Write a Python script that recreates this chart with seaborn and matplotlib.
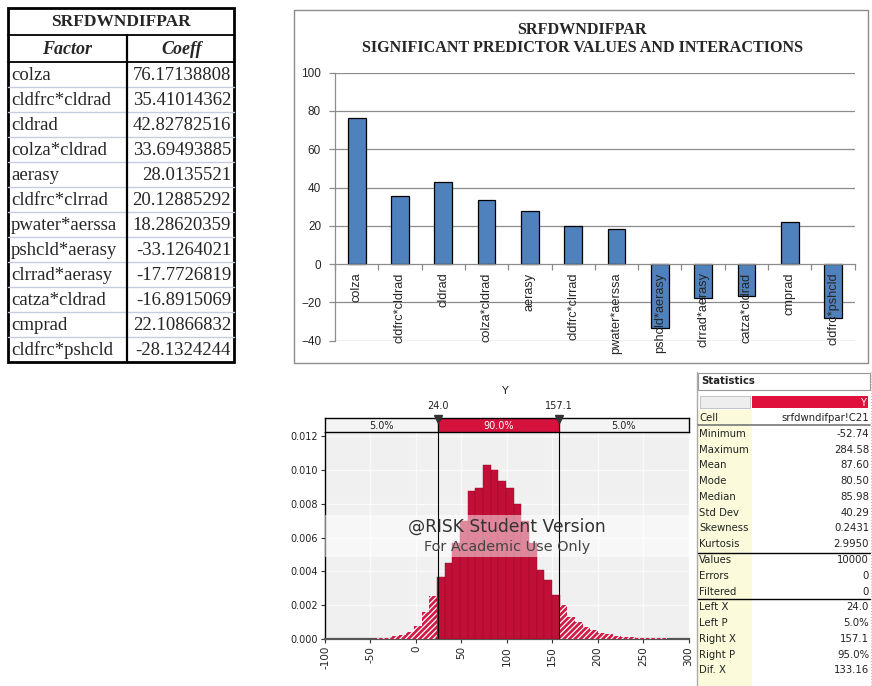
import numpy as np
import pandas as pd
import matplotlib
matplotlib.use("Agg")
import matplotlib.pyplot as plt
import seaborn as sns
from matplotlib.patches import Rectangle

# ---------------- data ----------------
table_title = "SRFDWNDIFPAR"
factors = ["colza", "cldfrc*cldrad", "cldrad", "colza*cldrad", "aerasy",
           "cldfrc*clrrad", "pwater*aerssa", "pshcld*aerasy", "clrrad*aerasy",
           "catza*cldrad", "cmprad", "cldfrc*pshcld"]
coeffs = [76.17138808, 35.41014362, 42.82782516, 33.69493885, 28.0135521,
          20.12885292, 18.28620359, -33.1264021, -17.7726819, -16.8915069,
          22.10866832, -28.1324244]
coeff_text = ["76.17138808", "35.41014362", "42.82782516", "33.69493885",
              "28.0135521", "20.12885292", "18.28620359", "-33.1264021",
              "-17.7726819", "-16.8915069", "22.10866832", "-28.1324244"]
bar_title = "SRFDWNDIFPAR\nSIGNIFICANT PREDICTOR VALUES AND INTERACTIONS"
bar_yticks = [-40, -20, 0, 20, 40, 60, 80, 100]

hist_min, hist_max, n_bins = -52.74, 284.58, 40
densities = [0.00002, 0.00003, 0.00005, 0.00018, 0.00022, 0.00040, 0.00077,
             0.00162, 0.00254, 0.00365, 0.00450, 0.00570, 0.00700, 0.00876,
             0.00895, 0.01030, 0.01000, 0.00935, 0.00890, 0.00800, 0.00700,
             0.00570, 0.00410, 0.00349, 0.00260, 0.00200, 0.00132, 0.00103,
             0.00072, 0.00055, 0.00038, 0.00028, 0.00020, 0.00014, 0.00010,
             0.00007, 0.00005, 0.00004, 0.00003, 0.00002]
left_x, right_x = 24.0, 157.1
band_labels = ["5.0%", "90.0%", "5.0%"]
hist_xticks = [-100, -50, 0, 50, 100, 150, 200, 250, 300]
hist_yticks = [0.000, 0.002, 0.004, 0.006, 0.008, 0.010, 0.012]

stat_labels = ["Cell", "Minimum", "Maximum", "Mean", "Mode", "Median", "Std Dev",
               "Skewness", "Kurtosis", "Values", "Errors", "Filtered",
               "Left X", "Left P", "Right X", "Right P", "Dif. X"]
stat_values = ["srfdwndifpar!C21", "-52.74", "284.58", "87.60", "80.50", "85.98",
               "40.29", "0.2431", "2.9950", "10000", "0", "0",
               "24.0", "5.0%", "157.1", "95.0%", "133.16"]

# ---------------- figure ----------------
sns.set_theme(style="white")
plt.rcParams["font.family"] = ["DejaVu Sans"]
plt.rcParams["hatch.linewidth"] = 0.9
W, H = 872, 686
fig = plt.figure(figsize=(W / 100, H / 100), dpi=100)
fig.patch.set_facecolor("white")

def fx(px):
    return px / W

def fy(py):
    return 1 - py / H

# overlay axes in pixel coordinates (for table / panels)
ov = fig.add_axes([0, 0, 1, 1])
ov.set_xlim(0, W)
ov.set_ylim(H, 0)
ov.axis("off")
ov.set_zorder(10)

# ---------------- table ----------------
serif = "Liberation Serif"
tx0, tx1, tcol = 8, 234, 127
ty0, ty_h1, ty_h2, ty1 = 8, 35, 61.5, 362
row_h = (ty1 - ty_h2) / len(factors)
for i in range(1, len(factors)):
    yy = ty_h2 + i * row_h
    ov.plot([tx0, tx1], [yy, yy], color="#C5CEDF", lw=1.0)
ov.plot([tx0, tx1], [ty_h1, ty_h1], color="black", lw=1.3)
ov.plot([tx0, tx1], [ty_h2, ty_h2], color="black", lw=1.3)
ov.plot([tcol, tcol], [ty_h1, ty1], color="black", lw=1.6)
ov.add_patch(Rectangle((tx0, ty0), tx1 - tx0, ty1 - ty0, fill=False,
                       edgecolor="black", lw=2))
ov.text((tx0 + tx1) / 2, (ty0 + ty_h1) / 2 + 1, table_title, ha="center", va="center",
        family=serif, weight="bold", fontsize=12.5)
ov.text((tx0 + tcol) / 2, (ty_h1 + ty_h2) / 2 + 1, "Factor", ha="center", va="center",
        family=serif, weight="bold", style="italic", fontsize=13)
ov.text((tcol + tx1) / 2 + 1, (ty_h1 + ty_h2) / 2 + 1, "Coeff", ha="center", va="center",
        family=serif, weight="bold", style="italic", fontsize=13)
for i, (f, c) in enumerate(zip(factors, coeff_text)):
    yy = ty_h2 + (i + 0.5) * row_h + 1
    ov.text(tx0 + 3, yy, f, ha="left", va="center", family=serif, fontsize=13.5)
    ov.text(tx1 - 3, yy, c, ha="right", va="center", family=serif, fontsize=13.5)

# ---------------- bar chart ----------------
ov.add_patch(Rectangle((294, 10), 574, 353, fill=False, edgecolor="#8C8C8C", lw=1))
ov.text(582, 30, bar_title.split("\n")[0], ha="center", va="center", family=serif,
        weight="bold", fontsize=11.6)
ov.text(582, 47.5, bar_title.split("\n")[1], ha="center", va="center", family=serif,
        weight="bold", fontsize=11.6)

axb = fig.add_axes([fx(335), fy(340.7), fx(854.7) - fx(335), fy(72.7) - fy(340.7)])
axb.patch.set_alpha(0)
dfb = pd.DataFrame({"factor": factors, "coeff": coeffs})
sns.barplot(data=dfb, x="factor", y="coeff", color="#4F81BD", saturation=1,
            edgecolor="black", linewidth=0.9, width=0.41, ax=axb)
for p in axb.patches:
    p.set_zorder(1)
axb.set_axisbelow(False)
axb.set_xlim(-0.5, len(factors) - 0.5)
axb.set_ylim(bar_yticks[0], bar_yticks[-1])
axb.set_yticks(bar_yticks)
for v in bar_yticks:
    if v != 0:
        axb.axhline(v, color="#8C8C8C", lw=0.9, zorder=0.5)
axb.set_xlabel("")
axb.set_ylabel("")
for s in ["top", "right"]:
    axb.spines[s].set_visible(False)
axb.spines["left"].set_color("#8C8C8C")
axb.spines["bottom"].set_color("#8C8C8C")
axb.spines["bottom"].set_position(("data", 0))
axb.spines["left"].set_linewidth(0.9)
axb.spines["bottom"].set_linewidth(0.9)
axb.set_xticks(np.arange(-0.5, len(factors), 1.0), minor=True)
axb.tick_params(axis="x", which="major", length=0, pad=6, labelsize=9.2, rotation=90)
axb.tick_params(axis="x", which="minor", length=4, color="#8C8C8C", width=0.9,
                direction="out", bottom=True)
axb.tick_params(axis="y", length=4, color="#8C8C8C", width=0.9, left=True,
                labelsize=8.5, pad=6)
for lab in axb.get_xticklabels() + axb.get_yticklabels():
    lab.set_family("Liberation Sans")
    lab.set_zorder(5)

# ---------------- histogram ----------------
axh = fig.add_axes([fx(325), fy(639), fx(688.5) - fx(325), fy(432) - fy(639)])
axh.set_facecolor("#F0F0F0")
bin_w = (hist_max - hist_min) / n_bins
centers = [hist_min + (i + 0.5) * bin_w for i in range(n_bins)]
dfh = pd.DataFrame({"x": centers, "w": densities})
sns.histplot(data=dfh, x="x", weights="w", bins=n_bins, binrange=(hist_min, hist_max),
             stat="count", color="#C20F38", alpha=1, edgecolor="#8E0A28",
             linewidth=0.3, ax=axh, zorder=3)
for p in axh.patches:
    x0 = p.get_x()
    x1 = x0 + p.get_width()
    if x1 <= left_x + 0.5 or x0 >= right_x + 0.5:
        p.set_facecolor("#D01A45")
        p.set_edgecolor("white")
        p.set_linewidth(0)
        p.set_hatch("//////")
axh.set_xlim(hist_xticks[0], hist_xticks[-1])
axh.set_ylim(0, 0.01224)
axh.set_xticks(hist_xticks)
axh.set_yticks(hist_yticks)
axh.set_yticklabels([f"{v:.3f}" for v in hist_yticks])
axh.set_xticklabels([str(v) for v in hist_xticks], rotation=90)
axh.grid(True, color="#FAFAFA", lw=1.0, zorder=1)
axh.set_axisbelow(True)
axh.set_xlabel("")
axh.set_ylabel("")
for s in ["top", "right"]:
    axh.spines[s].set_visible(False)
axh.spines["left"].set_color("black")
axh.spines["left"].set_linewidth(1)
axh.spines["bottom"].set_color("#555555")
axh.spines["bottom"].set_linewidth(1.6)
axh.tick_params(axis="both", labelsize=7, length=3, color="#333333", width=0.8,
                left=True, bottom=True, pad=2, labelcolor="#222222")
axh.tick_params(axis="x", labelsize=7.5)
for v in (left_x, right_x):
    axh.axvline(v, color="black", lw=0.8, zorder=7)
# watermark band
axh.add_patch(Rectangle((0, (639 - 557) / 207), 1, 42 / 207, transform=axh.transAxes,
                        facecolor="white", alpha=0.5, edgecolor="none", zorder=5))
axh.text(0.5, (639 - 527) / 207, "@RISK Student Version", transform=axh.transAxes,
         ha="center", va="center", fontsize=12.3, color="#333333", zorder=8)
axh.text(0.5, (639 - 547) / 207, "For Academic Use Only", transform=axh.transAxes,
         ha="center", va="center", fontsize=10.4, color="#444444", zorder=8)

# percentile band
axband = fig.add_axes([fx(325), fy(432), fx(688.5) - fx(325), fy(418) - fy(432)])
axband.set_facecolor("#F4F4F4")
axband.set_xlim(hist_xticks[0], hist_xticks[-1])
axband.set_ylim(0, 1)
axband.axvspan(left_x, right_x, color="#D4123C", zorder=1)
axband.set_xticks([])
axband.set_yticks([])
for s in axband.spines.values():
    s.set_color("black")
    s.set_linewidth(1)
axband.text((hist_xticks[0] + left_x) / 2, 0.45, band_labels[0], ha="center",
            va="center", fontsize=7, color="#222222")
axband.text((left_x + right_x) / 2, 0.45, band_labels[1], ha="center",
            va="center", fontsize=7, color="white")
axband.text((right_x + hist_xticks[-1]) / 2, 0.45, band_labels[2], ha="center",
            va="center", fontsize=7, color="#222222")
for v in (left_x, right_x):
    axband.axvline(v, color="black", lw=0.8)
axband.plot([left_x, right_x], [0.92, 0.92], ls="none", marker="v", ms=6,
            color="#333333", clip_on=False, zorder=5)
axband.text(left_x, 1.5, f"{left_x:.1f}", ha="center", va="bottom", fontsize=7,
            color="#222222")
axband.text(right_x, 1.5, f"{right_x:.1f}", ha="center", va="bottom", fontsize=7,
            color="#222222")
ov.text(505, 391, "Y", ha="center", va="center", fontsize=8, color="#222222")

# ---------------- statistics panel ----------------
sx0, sx1, scol = 698, 870, 752
ov.plot([697, 697], [372, 686], color="#AAAAAA", lw=1)
ov.add_patch(Rectangle((sx0, 373), sx1 - sx0, 17, fill=False, edgecolor="#999999", lw=0.8))
ov.text(701, 381.5, "Statistics", ha="left", va="center", fontsize=7.3, weight="bold",
        color="#222222")
ov.add_patch(Rectangle((700, 396), 50, 12, facecolor="#EEEEEE", edgecolor="#BBBBBB", lw=0.6))
ov.add_patch(Rectangle((752, 396), 116, 12, facecolor="#E0103C", edgecolor="none"))
ov.text(866, 402.5, "Y", ha="right", va="center", fontsize=7, color="white")
ov.add_patch(Rectangle((sx0, 410), scol - sx0, H - 410, facecolor="#FBFBDC",
                       edgecolor="none"))
row0, rstep = 418, 15.78
for i, (lab, val) in enumerate(zip(stat_labels, stat_values)):
    yy = row0 + i * rstep
    ov.text(699, yy, lab, ha="left", va="center", fontsize=7.3, color="#222222")
    ov.text(869, yy, val, ha="right", va="center", fontsize=7.3, color="#222222")
ov.plot([sx0, sx1], [row0 + 0.45 * rstep, row0 + 0.45 * rstep], color="#777777", lw=1.2)
ov.plot([sx0, sx1], [row0 + 8.55 * rstep, row0 + 8.55 * rstep], color="black", lw=1)
ov.plot([sx0, sx1], [row0 + 11.5 * rstep, row0 + 11.5 * rstep], color="black", lw=1)
ov.plot([871, 871], [372, 686], color="#BBBBBB", lw=0.8, ls=":")

fig.savefig("out.png", dpi=100, facecolor="white")
